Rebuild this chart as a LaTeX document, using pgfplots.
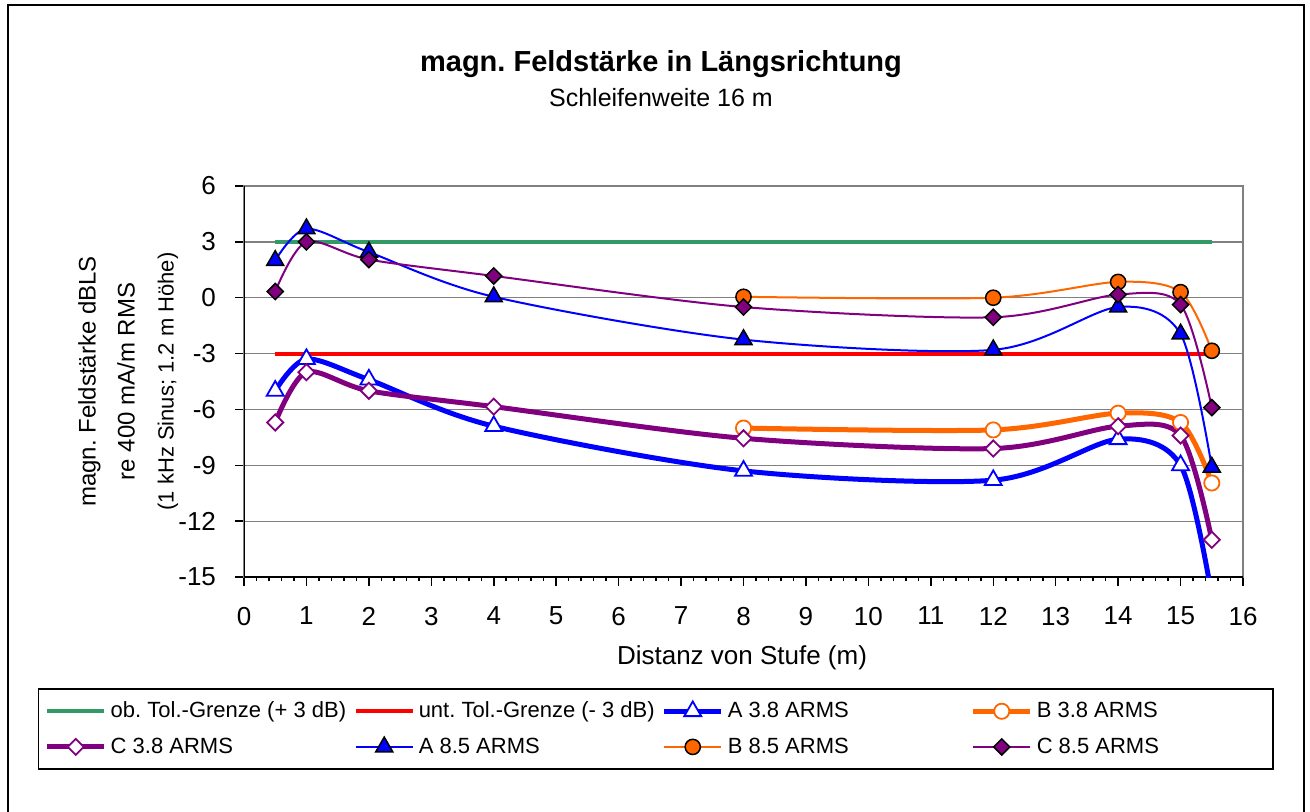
\documentclass[border=0pt]{standalone}
\usepackage{pgfplots}
\pgfplotsset{compat=1.18}
\usepackage{fontspec}
\setmainfont{Liberation Sans}
\frenchspacing

\definecolor{tolgreen}{RGB}{51,153,102}
\definecolor{exorange}{RGB}{255,102,0}
\definecolor{expurple}{RGB}{128,0,128}
\definecolor{gridgray}{RGB}{128,128,128}

\begin{document}
\frenchspacing
\begin{tikzpicture}[x=1pt,y=1pt]
\useasboundingbox (0,0) rectangle (655,405.5);
\draw[line width=1pt] (3.75,-5) rectangle (652,402.75);
\node[font=\fontsize{14.5}{17}\selectfont\bfseries] at (330.5,373.5) {magn. Feldstärke in Längsrichtung};
\node[font=\fontsize{12.5}{15}\selectfont] at (330.5,356.5) {Schleifenweite 16 m};
\begin{axis}[
  at={(122pt,117pt)}, anchor=south west,
  scale only axis, width=499.5pt, height=195.5pt,
  xmin=0, xmax=16, ymin=-15, ymax=6,
  xtick={0,1,...,16}, ytick={-15,-12,...,6},
  minor x tick num=4,
  xtick pos=bottom, ytick pos=left,
  tick align=outside,
  major tick length=4.5pt, minor tick length=2pt,
  tick style={black, line width=0.75pt},
  axis line style={draw=gridgray, line width=0.75pt},
  ymajorgrids, grid style={gridgray, line width=0.65pt},
  ticklabel style={font=\fontsize{13}{15}\selectfont},
  /pgf/number format/assume math mode=true,
  xticklabel style={yshift=-7pt},
  yticklabel style={xshift=-6pt},
  xlabel={Distanz von Stufe (m)},
  xlabel style={font=\fontsize{13}{15}\selectfont, at={(axis description cs:0.4985,-0.207)}, anchor=center},
  ylabel={magn. Feldstärke dBLS\\re 400 mA/m RMS\\{\fontsize{11}{19.5}\selectfont (1 kHz Sinus; 1.2 m Höhe)}},
  ylabel style={align=center, font=\fontsize{12}{19.5}\selectfont, at={(axis description cs:-0.116,0.5)}, anchor=center},
  legend style={at={(axis description cs:-0.2062,-0.2839)}, anchor=north west,
    draw=black, line width=0.75pt, font=\fontsize{11}{13}\selectfont,
    inner xsep=3pt, inner ysep=4.5pt, row sep=4.5pt, nodes={inner sep=2pt},
    /tikz/every even column/.append style={column sep=0pt}},
  legend columns=4,
  legend cell align=left,
  legend image code/.code={\draw[mark repeat=2,mark phase=2] plot coordinates {(0pt,0pt) (14.25pt,0pt) (28.5pt,0pt)};},
]
\draw[black, line width=0.75pt] (rel axis cs:0,1) -- (rel axis cs:0,0) -- (rel axis cs:1,0);

\addplot[tolgreen, line width=2pt] coordinates {(0.5,3) (15.5,3)};
\addlegendentry{\makebox[119.5pt][l]{ob.\ Tol.-Grenze (+ 3 dB)}}

\addplot[red, line width=2pt] coordinates {(0.5,-3) (15.5,-3)};
\addlegendentry{\makebox[119.5pt][l]{unt.\ Tol.-Grenze (- 3 dB)}}

\addplot[blue, line width=2.5pt, smooth, mark=triangle*, mark size=4.9pt,
  mark options={fill=white, draw=blue, line width=0.9pt}]
  coordinates {(0.5,-5.0) (1,-3.3) (2,-4.4) (4,-6.9) (8,-9.3) (12,-9.8) (14,-7.6) (15,-9.0) (15.5,-16)};
\addlegendentry{\makebox[119.5pt][l]{A 3.8 ARMS}}

\addplot[exorange, line width=2.5pt, smooth, mark=*, mark size=3.8pt,
  mark options={fill=white, draw=exorange, line width=0.9pt}]
  coordinates {(8,-7.0) (12,-7.1) (14,-6.2) (15,-6.7) (15.5,-9.95)};
\addlegendentry{\makebox[113pt][l]{B 3.8 ARMS}}

\addplot[expurple, line width=2.5pt, smooth, mark=square*, mark size=2.85pt,
  mark options={rotate=45, fill=white, draw=expurple, line width=0.9pt}]
  coordinates {(0.5,-6.7) (1,-4.0) (2,-5.0) (4,-5.85) (8,-7.55) (12,-8.1) (14,-6.9) (15,-7.4) (15.5,-13.0)};
\addlegendentry{\makebox[119.5pt][l]{C 3.8 ARMS}}

\addplot[blue, line width=1pt, smooth, mark=triangle*, mark size=4.9pt,
  mark options={fill=blue, draw=black, line width=0.75pt}]
  coordinates {(0.5,2.0) (1,3.7) (2,2.45) (4,0.05) (8,-2.25) (12,-2.8) (14,-0.5) (15,-1.95) (15.5,-9.1)};
\addlegendentry{\makebox[119.5pt][l]{A 8.5 ARMS}}

\addplot[exorange, line width=1pt, smooth, mark=*, mark size=3.8pt,
  mark options={fill=exorange, draw=black, line width=0.75pt}]
  coordinates {(8,0.05) (12,0.0) (14,0.85) (15,0.3) (15.5,-2.85)};
\addlegendentry{\makebox[119.5pt][l]{B 8.5 ARMS}}

\addplot[expurple, line width=1pt, smooth, mark=square*, mark size=2.85pt,
  mark options={rotate=45, fill=expurple, draw=black, line width=0.75pt}]
  coordinates {(0.5,0.33) (1,3.0) (2,2.05) (4,1.17) (8,-0.5) (12,-1.05) (14,0.17) (15,-0.37) (15.5,-5.9)};
\addlegendentry{\makebox[113pt][l]{C 8.5 ARMS}}
\end{axis}
\end{tikzpicture}
\end{document}
